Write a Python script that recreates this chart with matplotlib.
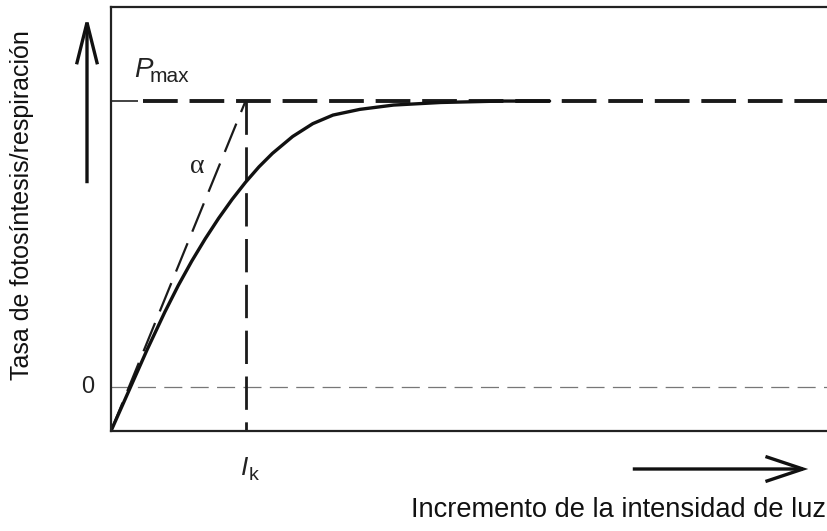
import matplotlib
matplotlib.use("Agg")
import matplotlib.pyplot as plt
from matplotlib.patches import FancyArrowPatch

plt.rcParams['font.family'] = ['Liberation Sans', 'DejaVu Sans']
plt.rcParams['lines.scale_dashes'] = False

# Light response curve (x in units of I_k, y in units of P_max)
light = [0.0, 0.27, 0.40, 0.50, 0.60, 0.70, 0.80, 0.90, 1.00, 1.10, 1.20,
         1.35, 1.50, 1.65, 1.85, 2.10, 2.45, 2.90, 3.26]
rate = [-0.154, 0.132, 0.262, 0.355, 0.440, 0.518, 0.590, 0.656, 0.716, 0.770,
        0.817, 0.876, 0.921, 0.951, 0.971, 0.986, 0.995, 1.0, 1.0]

p_max = 1.0
i_k = 1.0
resp = -0.154
x_max = 5.391
y_top = 1.329

fig = plt.figure(figsize=(8.28, 5.31), dpi=100)
ax = fig.add_axes([111/828, 100/531, 1 - 111/828 + 0.01, 424/531])
ax.set_xlim(0, x_max)
ax.set_ylim(resp, y_top)

ink = '#1a1a1a'
# zero line
ax.plot([0, x_max], [0, 0], color='#777777', lw=0.9, dashes=(13, 6))
# Pmax line
ax.plot([0, 0.2], [p_max, p_max], color='#222222', lw=1.2, solid_capstyle='butt')
ax.plot([0.24, x_max], [p_max, p_max], color=ink, lw=2.8, dashes=(25, 8.5))
# I_k vertical line
ax.plot([i_k, i_k], [p_max, resp], color=ink, lw=2.0, dashes=(24, 9))
# alpha line
ax.plot([0, i_k], [resp, p_max], color=ink, lw=1.6, dashes=(22, 9))
# curve
ax.plot(light, rate, color='#111111', lw=2.4, solid_capstyle='round',
        solid_joinstyle='round')

for s in ['left', 'top', 'bottom']:
    ax.spines[s].set_linewidth(1.6)
    ax.spines[s].set_color('#222222')
ax.spines['right'].set_visible(False)
ax.set_xticks([])
ax.set_yticks([])

# labels
ax.text(-0.17, 0, '0', ha='center', va='center', fontsize=17, color='#222222')
ax.text(0.17, 1.11, 'P', ha='left', va='center', fontsize=20, style='italic', color='#222222')
ax.text(0.29, 1.085, 'max', ha='left', va='center', fontsize=15, color='#222222')
ax.text(0.64, 0.77, 'α', ha='center', va='center', fontsize=20,
        family=['Liberation Serif', 'DejaVu Serif'], color='#222222')
ax.text(i_k - 0.01, -0.285, 'I', ha='center', va='center', fontsize=19, style='italic', color='#222222')
ax.text(i_k + 0.02, -0.31, 'k', ha='left', va='center', fontsize=14, color='#222222')

fig.text(22/828, 1 - 205/531, 'Tasa de fotosíntesis/respiración', rotation=90,
         ha='center', va='center', fontsize=18, color='#111111')
fig.text(826/828, 1 - 510/531, 'Incremento de la intensidad de luz',
         ha='right', va='center', fontsize=19.6, color='#111111')

# arrows
fig.patches.append(FancyArrowPatch(
    (87/828, 1 - 186/531), (87/828, 1 - 13/531), transform=fig.transFigure,
    arrowstyle='->,head_length=30,head_width=7.5', lw=2.4, color='#111111',
    mutation_scale=1, joinstyle='miter', capstyle='butt'))
fig.patches.append(FancyArrowPatch(
    (630/828, 1 - 469/531), (811/828, 1 - 469/531), transform=fig.transFigure,
    arrowstyle='->,head_length=27,head_width=9', lw=2.4, color='#111111',
    mutation_scale=1, joinstyle='miter', capstyle='butt'))

fig.savefig('out.png', dpi=100)
